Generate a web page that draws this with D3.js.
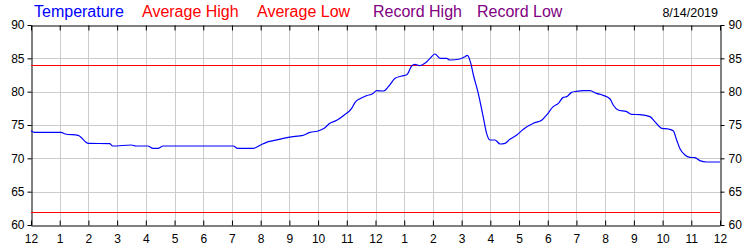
<!DOCTYPE html>
<html lang="en">
    <head>
        <meta charset="utf-8">
        <title>Temperature 8/14/2019</title>
        <script type="text/javascript" src="https://cdn.jsdelivr.net/npm/d3@7"></script>
        <style>
            body { margin: 0; background: #fff; }
            svg { display: block; font-family: "Liberation Sans", Arial, sans-serif; }
        </style>
    </head>
    <body>
        <script type="text/javascript">

            // hours since midnight and temperature readings (deg F)
            var hours = [0, 0.12, 1.05, 1.2, 1.64, 2.0, 2.74, 2.85, 3.5, 3.65, 4.07, 4.25, 4.42, 4.6, 7.05, 7.2, 7.75,
                         8.0, 8.2, 8.44, 8.79, 9.2, 9.43, 9.72, 10.0, 10.24, 10.41, 10.65, 10.88, 11.17, 11.29, 11.46, 11.69,
                         11.9, 12.04, 12.27, 12.45, 12.68, 12.91, 13.09, 13.26, 13.37, 13.55, 13.72, 13.9, 14.07, 14.25,
                         14.48, 14.59, 14.94, 15.12, 15.2, 15.32, 15.41, 15.58, 15.75, 15.87, 15.99, 16.16, 16.34, 16.51,
                         16.68, 16.92, 17.15, 17.5, 17.8, 17.98, 18.19, 18.37, 18.54, 18.66, 18.83, 19.0, 19.24, 19.47,
                         19.7, 19.93, 20.17, 20.28, 20.45, 20.75, 20.92, 21.21, 21.56, 21.73, 21.97, 22.2, 22.37, 22.49,
                         22.61, 22.78, 22.95, 23.13, 23.3, 23.53, 24];
            var temps = [74.15, 73.9, 73.9, 73.65, 73.45, 72.25, 72.2, 71.85, 72.0, 71.85, 71.85, 71.5, 71.5, 71.85, 71.85, 71.5, 71.5,
                         72.0, 72.4, 72.65, 73.0, 73.3, 73.4, 73.9, 74.1, 74.6, 75.25, 75.7, 76.4, 77.5, 78.4, 78.95, 79.4,
                         79.7, 80.15, 80.1, 80.75, 82.0, 82.35, 82.55, 83.85, 84.1, 83.9, 84.25, 85.0, 85.65, 85.0,
                         85.0, 84.75, 84.9, 85.25, 85.45, 84.25, 82.5, 79.75, 76.25, 73.75, 72.75, 72.75, 72.15, 72.25,
                         72.85, 73.5, 74.35, 75.25, 75.75, 76.6, 77.75, 78.25, 79.15, 79.25, 79.9, 80.05, 80.15, 80.15,
                         79.75, 79.45, 78.9, 78.0, 77.25, 77.0, 76.6, 76.55, 76.25, 75.5, 74.5, 74.4, 74.15, 72.75,
                         71.4, 70.5, 70.15, 70.1, 69.65, 69.45, 69.45];
            var avgHigh = 84;
            var avgLow = 62;
            var hourLabels = ["12","1","2","3","4","5","6","7","8","9","10","11","12","1","2","3","4","5","6","7","8","9","10","11","12"];
            var tempTicks = [60, 65, 70, 75, 80, 85, 90];
            var legendItems = ["Temperature", "Average High", "Average Low", "Record High", "Record Low"];
            var legendColors = ["#0000ff", "#ff0000", "#ff0000", "#800080", "#800080"];
            var legendX = [34, 142, 257, 373, 477];
            var dateText = "8/14/2019";

            var w = 750, h = 250;
            var pLeft = 31, pRight = 720, pTop = 25, pBottom = 225;

            var svg = d3.select("body").append("svg").attr("width", w).attr("height", h);

            var x = d3.scaleLinear().domain([0, 24]).range([pLeft, pRight]);
            var y = d3.scaleLinear().domain([60, 90]).range([pBottom, pTop]);

            // grid
            svg.append("g").selectAll("line")
                .data(d3.range(1, 24))
                .enter().append("line")
                .attr("x1", function(d) { return Math.round(x(d)) + 0.5; })
                .attr("x2", function(d) { return Math.round(x(d)) + 0.5; })
                .attr("y1", pTop).attr("y2", pBottom)
                .attr("stroke", "#cccccc");
            svg.append("g").selectAll("line")
                .data(tempTicks.slice(1, -1))
                .enter().append("line")
                .attr("y1", function(d) { return Math.round(y(d)) + 0.5; })
                .attr("y2", function(d) { return Math.round(y(d)) + 0.5; })
                .attr("x1", pLeft).attr("x2", pRight)
                .attr("stroke", "#cccccc");

            // axes
            var bottomAxis = d3.axisBottom(x).tickValues(d3.range(0, 25)).tickSizeInner(-5).tickSizeOuter(0)
                .tickPadding(9).tickFormat(function(d) { return hourLabels[d]; });
            var topAxis = d3.axisTop(x).tickValues(d3.range(0, 25)).tickSizeInner(-5).tickSizeOuter(0).tickFormat("");
            var leftAxis = d3.axisLeft(y).tickValues(tempTicks).tickSizeInner(4).tickSizeOuter(0).tickPadding(3);
            var rightAxis = d3.axisRight(y).tickValues(tempTicks).tickSizeInner(4).tickSizeOuter(0).tickPadding(4);

            function styleAxis(g) {
                g.selectAll("path").attr("stroke", "#000");
                g.selectAll("line").attr("stroke", "#000");
                g.selectAll("text").attr("fill", "#000").style("font-size", "12px")
                    .style("font-family", "'Liberation Sans', Arial, sans-serif");
            }
            svg.append("g").attr("transform", "translate(0," + (pBottom + 0.5) + ")").call(bottomAxis).call(styleAxis);
            svg.append("g").attr("transform", "translate(0," + (pTop + 0.5) + ")").call(topAxis).call(styleAxis);
            svg.append("g").attr("transform", "translate(" + (pLeft + 0.5) + ",0)").call(leftAxis).call(styleAxis);
            svg.append("g").attr("transform", "translate(" + (pRight + 0.5) + ",0)").call(rightAxis).call(styleAxis);

            // average lines
            svg.append("line")
                .attr("x1", pLeft).attr("x2", pRight)
                .attr("y1", Math.round(y(avgHigh)) + 0.5).attr("y2", Math.round(y(avgHigh)) + 0.5)
                .attr("stroke", "#ff0000");
            svg.append("line")
                .attr("x1", pLeft).attr("x2", pRight)
                .attr("y1", Math.round(y(avgLow)) + 0.5).attr("y2", Math.round(y(avgLow)) + 0.5)
                .attr("stroke", "#ff0000");

            // temperature line
            var line = d3.line()
                .x(function(d, i) { return x(hours[i]); })
                .y(function(d) { return y(d); })
                .curve(d3.curveMonotoneX);
            svg.append("path")
                .datum(temps)
                .attr("d", line)
                .attr("fill", "none")
                .attr("stroke", "#0000ff")
                .attr("stroke-width", 1.2);

            // legend
            svg.selectAll("text.legend")
                .data(legendItems)
                .enter().append("text")
                .attr("class", "legend")
                .attr("x", function(d, i) { return legendX[i]; })
                .attr("y", 17)
                .attr("fill", function(d, i) { return legendColors[i]; })
                .style("font-size", "16px")
                .text(function(d) { return d; });

            svg.append("text")
                .attr("x", 718).attr("y", 17)
                .attr("text-anchor", "end")
                .style("font-size", "12.5px")
                .attr("fill", "#000")
                .text(dateText);

        </script>
    </body>
</html>
